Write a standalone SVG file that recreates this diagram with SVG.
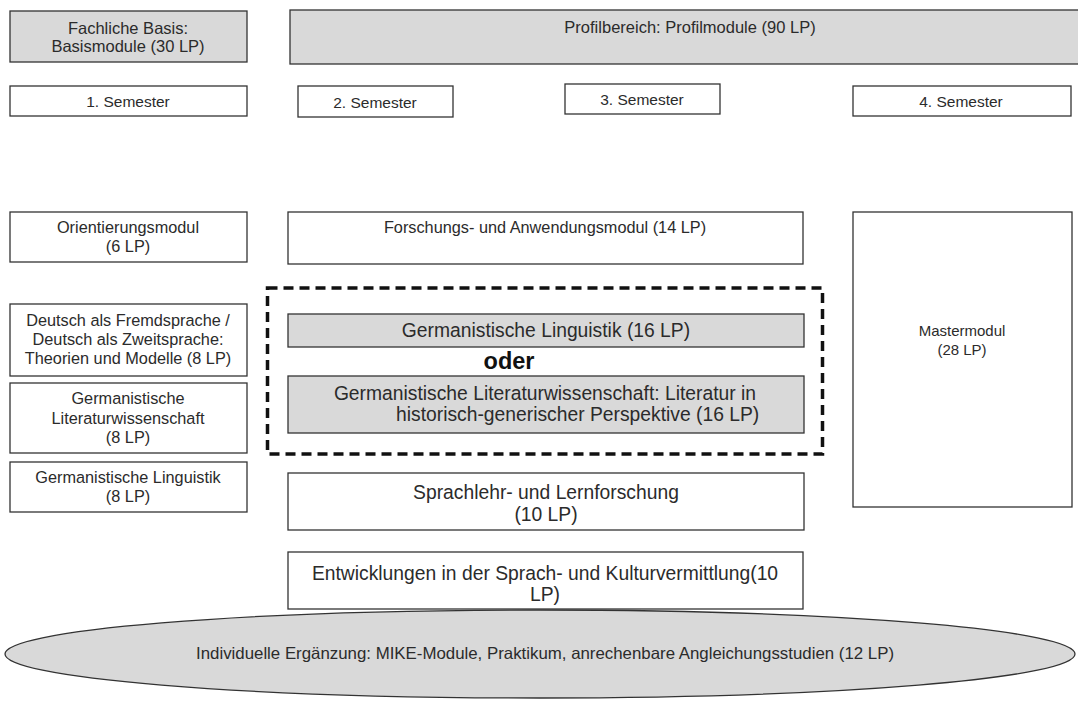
<svg xmlns="http://www.w3.org/2000/svg" width="1078" height="713" viewBox="0 0 1078 713">
<style>
text{font-family:"Liberation Sans",Arial,sans-serif;fill:#2b2b2b;text-anchor:middle}
.b{stroke:#333;stroke-width:1.3;fill:#fff}
.g{stroke:#333;stroke-width:1.3;fill:#d9d9d9}
.h{font-size:16.5px}
.sem{font-size:15.5px}
.l{font-size:16.3px}
.m{font-size:19.3px}
</style>
<rect width="1078" height="713" fill="#fff"/>
<g id="basis"><rect class="g" x="10" y="11" width="237" height="51"/><text class="h" x="128" y="34">Fachliche Basis:</text><text class="h" x="128" y="52">Basismodule (30 LP)</text></g>
<g id="profil"><rect class="g" x="290" y="10" width="800" height="54"/><text class="h" x="690" y="33">Profilbereich: Profilmodule (90 LP)</text></g>
<g id="sem1"><rect class="b" x="10" y="86" width="237" height="30"/><text class="sem" x="128" y="107">1. Semester</text></g>
<g id="sem2"><rect class="b" x="298" y="86" width="155" height="31"/><text class="sem" x="375" y="108">2. Semester</text></g>
<g id="sem3"><rect class="b" x="565" y="84" width="155" height="30"/><text class="sem" x="642" y="105">3. Semester</text></g>
<g id="sem4"><rect class="b" x="853" y="86" width="218" height="30"/><text class="sem" x="961" y="107">4. Semester</text></g>
<g id="orient"><rect class="b" x="10" y="212" width="237" height="50"/><text class="l" x="128" y="233">Orientierungsmodul</text><text class="l" x="128" y="252">(6 LP)</text></g>
<g id="forschung"><rect class="b" x="288" y="212" width="515" height="52"/><text class="l" x="545" y="233">Forschungs- und Anwendungsmodul (14 LP)</text></g>
<g id="daf"><rect class="b" x="10" y="304" width="237" height="72"/><text class="l" x="128" y="326">Deutsch als Fremdsprache /</text><text class="l" x="128" y="345">Deutsch als Zweitsprache:</text><text class="l" x="128" y="364">Theorien und Modelle (8 LP)</text></g>
<g id="gliw8"><rect class="b" x="10" y="383" width="237" height="70"/><text class="l" x="128" y="404">Germanistische</text><text class="l" x="128" y="424">Literaturwissenschaft</text><text class="l" x="128" y="443">(8 LP)</text></g>
<g id="gling8"><rect class="b" x="10" y="462" width="237" height="50"/><text class="l" x="128" y="483">Germanistische Linguistik</text><text class="l" x="128" y="502">(8 LP)</text></g>
<g id="wahl"><rect x="267.5" y="288" width="555" height="166" fill="none" stroke="#111" stroke-width="3.5" stroke-dasharray="10,6"/></g>
<g id="gling16"><rect class="g" x="288" y="314" width="516" height="33"/><text class="m" x="546" y="337">Germanistische Linguistik (16 LP)</text></g>
<g id="oder"><text x="509" y="369" style="font-size:23.5px;font-weight:bold;fill:#111">oder</text></g>
<g id="glit16"><rect class="g" x="288" y="376" width="516" height="57"/><text class="m" x="545" y="400">Germanistische Literaturwissenschaft: Literatur in</text><text class="m" x="396" y="421" style="text-anchor:start">historisch-generischer Perspektive (16 LP)</text></g>
<g id="master"><rect class="b" x="853" y="212" width="219" height="295"/><text style="font-size:15px" x="962" y="336">Mastermodul</text><text style="font-size:15px" x="962" y="355">(28 LP)</text></g>
<g id="sprachlehr"><rect class="b" x="288" y="473" width="516" height="57"/><text class="m" x="546" y="499">Sprachlehr- und Lernforschung</text><text class="m" x="546" y="521">(10 LP)</text></g>
<g id="entw"><rect class="b" x="288" y="552" width="515" height="57"/><text class="m" x="545" y="580">Entwicklungen in der Sprach- und Kulturvermittlung(10</text><text class="m" x="545" y="601">LP)</text></g>
<g id="ergaenzung"><ellipse cx="540" cy="654" rx="535" ry="44" fill="#d9d9d9" stroke="#333" stroke-width="1.3"/><text x="545" y="659" style="font-size:16.5px" textLength="698" lengthAdjust="spacingAndGlyphs">Individuelle  Ergänzung:  MIKE-Module,  Praktikum,  anrechenbare Angleichungsstudien  (12 LP)</text></g>
<g id="connectors"></g>
</svg>
